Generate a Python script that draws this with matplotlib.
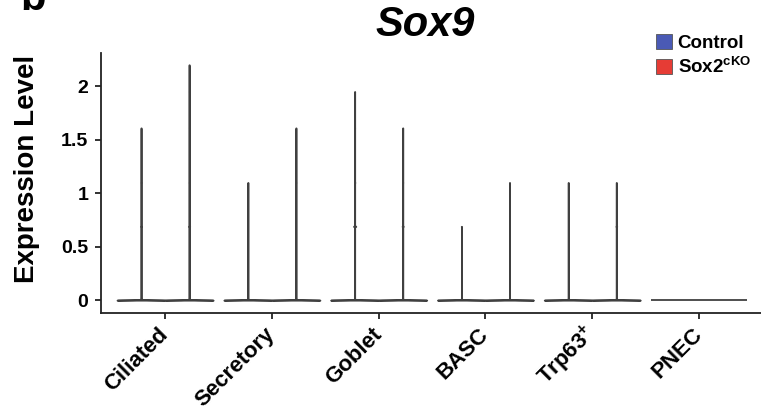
import numpy as np
import matplotlib
matplotlib.use("Agg")
import matplotlib.pyplot as plt
from matplotlib.patches import Patch

plt.rcParams['font.family'] = ['Liberation Sans', 'DejaVu Sans']
plt.rcParams['font.weight'] = 'bold'
plt.rcParams['mathtext.fontset'] = 'custom'
plt.rcParams['mathtext.rm'] = 'Liberation Sans:bold'
plt.rcParams['mathtext.bf'] = 'Liberation Sans:bold'
plt.rcParams['mathtext.it'] = 'Liberation Sans:bold'

# log-normalised expression levels (log1p of 0, 1, 2, 4, 6, 8 counts)
levels = [0.0, 0.69, 1.10, 1.61, 1.95, 2.20]
cell_types = ["Ciliated", "Secretory", "Goblet", "BASC", "Trp63$^{+}$", "PNEC"]

# number of cells at each level, per cell type
control_counts = [
    [300, 5, 2, 1, 0, 0],
    [300, 0, 1, 0, 0, 0],
    [300, 14, 3, 1, 1, 0],
    [300, 2, 0, 0, 0, 0],
    [300, 0, 1, 0, 0, 0],
    [300, 0, 0, 0, 0, 0],
]
cko_counts = [
    [300, 7, 2, 1, 1, 1],
    [300, 0, 2, 1, 0, 0],
    [300, 7, 2, 1, 0, 0],
    [300, 0, 1, 0, 0, 0],
    [300, 5, 1, 0, 0, 0],
    [300, 0, 0, 0, 0, 0],
]
groups = ["Control", "Sox2$^{cKO}$"]
group_colors = ["#4a5ab5", "#e63c35"]


def violin_stats(counts, bw=0.003):
    vals = np.repeat(levels, counts)
    lo, hi = vals.min(), vals.max()
    if hi == lo:
        coords = np.array([lo, lo])
        dens = np.array([1.0, 1.0])
    else:
        coords = np.linspace(lo, hi, 3000)
        dens = np.exp(-0.5 * ((coords[:, None] - vals[None, :]) / bw) ** 2).sum(axis=1)
    return dict(coords=coords, vals=dens, mean=vals.mean(), median=np.median(vals),
                min=lo, max=hi)


fig = plt.figure(figsize=(7.61, 4.13), dpi=100)
ax = fig.add_axes([101 / 761, 100 / 413, 1 - 101 / 761, 260 / 413])

x = np.arange(len(cell_types))
offset = 0.225
for k, (counts, color) in enumerate(zip([control_counts, cko_counts], group_colors)):
    stats = [violin_stats(c) for c in counts]
    pos = x - offset if k == 0 else x + offset
    parts = ax.violin(stats, positions=pos, widths=0.45, showmeans=False,
                      showextrema=False, showmedians=False)
    for body in parts['bodies']:
        body.set_facecolor(color)
        body.set_edgecolor('#404040')
        body.set_linewidth(1.3)
        body.set_alpha(1)

ax.set_xlim(-0.6, 5.58)
ax.set_ylim(-0.12, 2.31)
ax.set_yticks([0, 0.5, 1, 1.5, 2])
ax.set_yticklabels(["0", "0.5", "1", "1.5", "2"], fontsize=14, fontweight='bold')
ax.set_xticks(x)
ax.set_xticklabels(cell_types, rotation=45, ha='right', va='center',
                   rotation_mode='anchor', fontsize=16, fontweight='bold')
ax.tick_params(axis='both', length=4, width=1.3, color='#222222', pad=5)
ax.tick_params(axis='x', pad=9)
for side in ['top', 'right']:
    ax.spines[side].set_visible(False)
for side in ['left', 'bottom']:
    ax.spines[side].set_linewidth(1.3)
    ax.spines[side].set_color('#222222')

fig.text(27 / 761, 1 - 169 / 413, "Expression Level", rotation=90, ha='center',
         va='center', fontsize=20, fontweight='bold')
fig.text(425 / 761, 1 - 36 / 413, "Sox9", ha='center', va='baseline', fontsize=30,
         fontweight='bold', fontstyle='italic')
fig.text(20 / 761, 1 - 10 / 413, "b", ha='left', va='baseline', fontsize=30,
         fontweight='bold')

handles = [Patch(facecolor=c, edgecolor='#555555', linewidth=0.6) for c in group_colors]
ax.legend(handles, groups, loc='upper left', bbox_to_anchor=(656 / 761, 1 - 34 / 413),
          bbox_transform=fig.transFigure, frameon=False, borderpad=0, borderaxespad=0,
          handlelength=0.85, handleheight=0.85, handletextpad=0.3, labelspacing=0.25,
          prop={'size': 13.5, 'weight': 'bold'})

fig.savefig("out.png", dpi=100)
